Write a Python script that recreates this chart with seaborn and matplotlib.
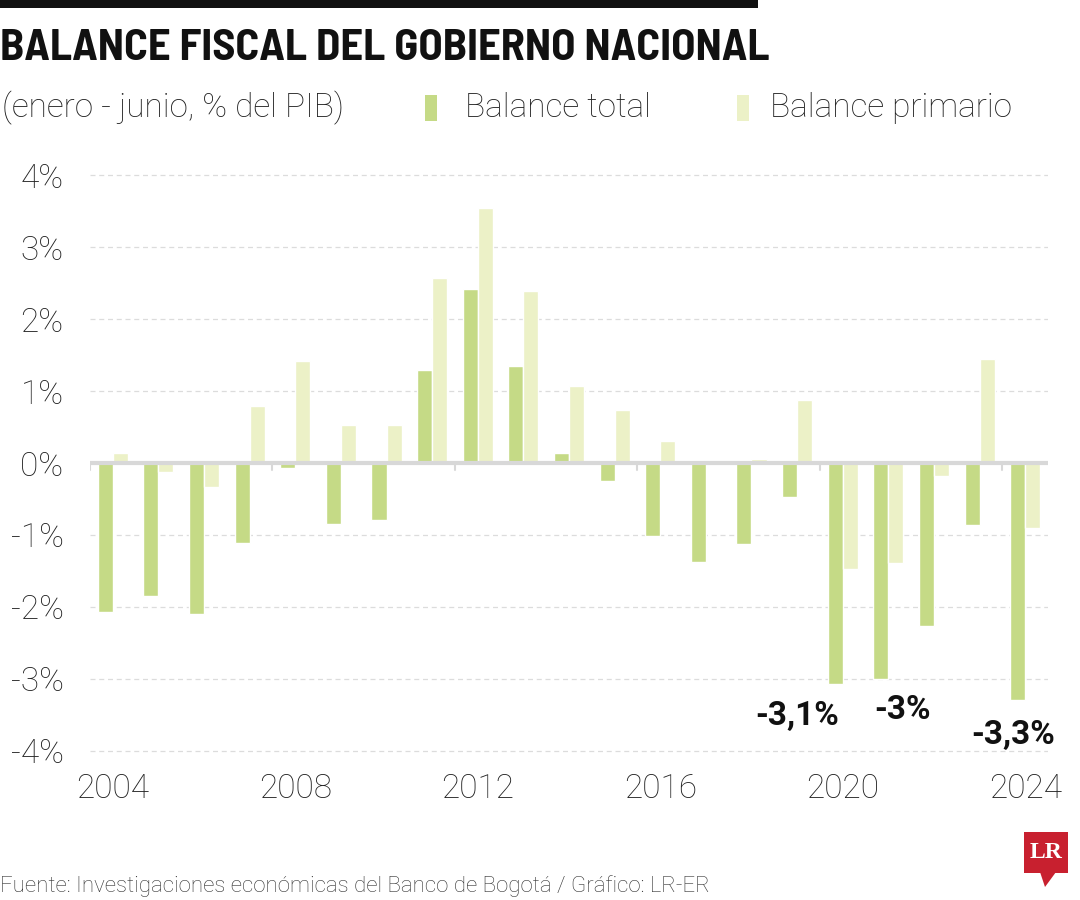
import numpy as np
import pandas as pd
import seaborn as sns
import matplotlib.pyplot as plt
from matplotlib.patches import Rectangle, Polygon

# datos (enero - junio, % del PIB)
anios = [str(a) for a in range(2004, 2025)]
balance_total = [-2.07, -1.85, -2.10, -1.11, -0.07, -0.85, -0.79, 1.29, 2.42, 1.35, 0.14,
                 -0.25, -1.01, -1.37, -1.12, -0.47, -3.07, -3.00, -2.26, -0.86, -3.30]
balance_primario = [0.14, -0.12, -0.33, 0.79, 1.42, 0.53, 0.53, 2.57, 3.55, 2.39, 1.07,
                    0.74, 0.31, 0.0, 0.05, 0.88, -1.47, -1.39, -0.18, 1.45, -0.90]
series = ["Balance total", "Balance primario"]
etiquetas = {"2020": "-3,1%", "2021": "-3%", "2024": "-3,3%"}
ticks_y = [-4, -3, -2, -1, 0, 1, 2, 3, 4]
anios_eje = ["2004", "2008", "2012", "2016", "2020", "2024"]

df = pd.DataFrame({
    "anio": anios * 2,
    "valor": balance_total + balance_primario,
    "serie": [series[0]] * len(anios) + [series[1]] * len(anios),
})

verde = "#c5da86"
verde_claro = "#ecf1c7"

sns.set_style("white")
plt.rcParams['font.family'] = ['Roboto', 'DejaVu Sans']

fig = plt.figure(figsize=(10.8, 9), dpi=100)
ax = fig.add_axes([90 / 1080, (900 - 758) / 900, 958 / 1080, 590 / 900])

sns.barplot(data=df, x="anio", y="valor", hue="serie", palette=[verde, verde_claro],
            width=0.66, saturation=1, legend=False, ax=ax)

ax.set_xlim(-0.5, len(anios) - 0.5)
ax.set_ylim(-4.1, 4.1)
ax.set_xlabel("")
ax.set_ylabel("")
sns.despine(ax=ax, left=True, bottom=True, top=True, right=True)

# grilla punteada
for v in ticks_y:
    if v != 0:
        ax.axhline(v, color="#dcdcdc", lw=0.9, ls=(0, (4, 3)), zorder=0)
ax.axhline(0, color="#d8d8d8", lw=3, zorder=3)

# marcas pequeñas en el eje cero entre grupos de 4 años
for i in range(0, len(anios), 4):
    ax.plot([i - 0.5, i - 0.5], [0, -0.1], color="#d8d8d8", lw=1.5, zorder=3)

ax.set_yticks(ticks_y)
ax.set_yticklabels([f"{v}%" for v in ticks_y], fontsize=24, fontweight="light", color="#222222")
pos = [anios.index(a) for a in anios_eje]
ax.set_xticks(pos)
ax.set_xticklabels(anios_eje, fontsize=24, fontweight="light", color="#222222")
ax.tick_params(axis="both", length=0)
ax.tick_params(axis="x", pad=11)
ax.tick_params(axis="y", pad=19)

# etiquetas de valores
offs = {"2020": (-1.0, -0.45), "2021": (0.32, -0.43), "2024": (-0.27, -0.48)}
for a, txt in etiquetas.items():
    i = anios.index(a)
    dx, dy = offs[a]
    ax.text(i + dx, balance_total[i] + dy, txt, ha="center", va="center",
            fontsize=24, fontweight="bold", color="#111111")

# encabezado
fig.add_artist(Rectangle((0, 1 - 8 / 900), 758 / 1080, 8 / 900, transform=fig.transFigure,
                         color="#111111", lw=0))
fig.text(0.0, 1 - 49 / 900, "BALANCE FISCAL DEL GOBIERNO NACIONAL", ha="left", va="center",
         fontsize=32, fontweight="bold", color="#111111",
         family=['Barlow Semi Condensed', 'DejaVu Sans'])
fig.text(0.002, 1 - 108 / 900, "(enero - junio, % del PIB)", ha="left", va="center",
         fontsize=24, fontweight="light", color="#222222")
fig.add_artist(Rectangle((425 / 1080, 1 - 121 / 900), 12 / 1080, 26 / 900,
                         transform=fig.transFigure, color=verde, lw=0))
fig.text(465 / 1080, 1 - 108 / 900, series[0], ha="left", va="center",
         fontsize=24, fontweight="light", color="#222222")
fig.add_artist(Rectangle((737 / 1080, 1 - 121 / 900), 12 / 1080, 26 / 900,
                         transform=fig.transFigure, color=verde_claro, lw=0))
fig.text(770 / 1080, 1 - 108 / 900, series[1], ha="left", va="center",
         fontsize=24, fontweight="light", color="#222222")

# fuente
fig.text(0.0, 1 - 886 / 900,
         "Fuente: Investigaciones económicas del Banco de Bogotá / Gráfico: LR-ER",
         ha="left", va="center", fontsize=16, fontweight="light", color="#333333")

# logo LR
rojo = "#c8202f"
fig.add_artist(Rectangle((1024 / 1080, 1 - 873 / 900), 44 / 1080, 41 / 900,
                         transform=fig.transFigure, color=rojo, lw=0))
fig.add_artist(Polygon([(1040 / 1080, 1 - 872 / 900), (1056 / 1080, 1 - 872 / 900),
                        (1045 / 1080, 1 - 887 / 900)], closed=True,
                       transform=fig.transFigure, color=rojo, lw=0))
fig.text(1046 / 1080, 1 - 853 / 900, "LR", ha="center", va="center", fontsize=17,
         fontweight="bold", color="white", family=['Liberation Serif', 'DejaVu Serif'])

fig.savefig("out.png", dpi=100)
